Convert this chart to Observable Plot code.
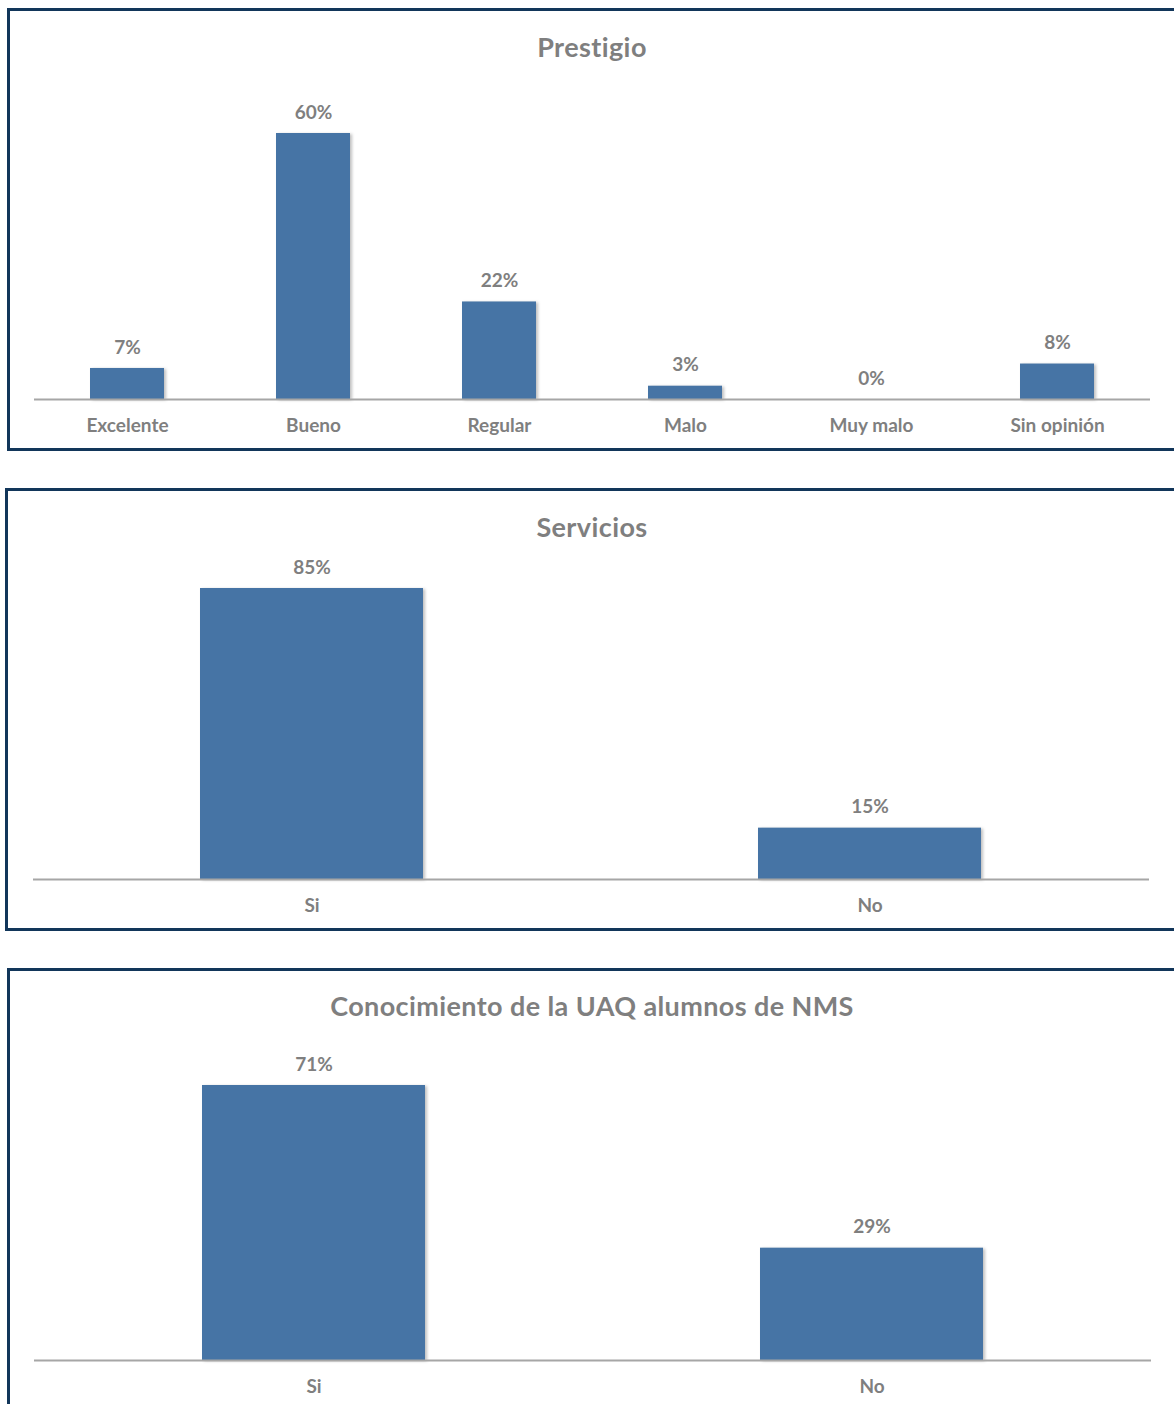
<!DOCTYPE html>
<html>
<head>
<meta charset="utf-8">
<script src="https://cdn.jsdelivr.net/npm/d3@7"></script>
<script src="https://cdn.jsdelivr.net/npm/@observablehq/plot@0.6"></script>
<style>
  html, body { margin: 0; padding: 0; background: #fff; width: 1174px; height: 1404px; overflow: hidden; }
  body { position: relative; font-family: Lato, "Open Sans", sans-serif; }
  .frame { position: absolute; border: 3px solid #12365a; box-sizing: border-box; }
  .title { position: absolute; left: 0; width: 1184px; text-align: center; font-weight: 700; font-size: 27px; letter-spacing: 0.4px; color: #7f7f7f; line-height: 30px; }
  .chart { position: absolute; left: 0; }
  .bar { filter: drop-shadow(2px 1px 1.5px rgba(0,0,0,0.25)); }
</style>
</head>
<body>
<script>
// ---- data ----
const prestigioTitle = "Prestigio";
const prestigioCategories = ["Excelente", "Bueno", "Regular", "Malo", "Muy malo", "Sin opinión"];
const prestigioValues = [7, 60, 22, 3, 0, 8];

const serviciosTitle = "Servicios";
const serviciosCategories = ["Si", "No"];
const serviciosValues = [85, 15];

const conocimientoTitle = "Conocimiento de la UAQ alumnos de NMS";
const conocimientoCategories = ["Si", "No"];
const conocimientoValues = [71, 29];

// ---- layout ----
const W = 1174;
const panels = [
  {title: prestigioTitle, cats: prestigioCategories, vals: prestigioValues,
   frame: {left: 7, top: 8, height: 443}, titleY: 47, svgTop: 60, svgH: 390, baseY: 399, refVal: 60, refTop: 133, x0: 34, x1: 1150},
  {title: serviciosTitle, cats: serviciosCategories, vals: serviciosValues,
   frame: {left: 5, top: 488, height: 443}, titleY: 527, svgTop: 540, svgH: 390, baseY: 879, refVal: 85, refTop: 588, x0: 33, x1: 1149},
  {title: conocimientoTitle, cats: conocimientoCategories, vals: conocimientoValues,
   frame: {left: 7, top: 968, height: 520}, titleY: 1006, svgTop: 1020, svgH: 384, baseY: 1360, refVal: 71, refTop: 1085, x0: 34, x1: 1151}
];

const BAR = "#4674a5";
const GRAY = "#7f7f7f";

for (const p of panels) {
  const fr = document.createElement("div");
  fr.className = "frame";
  fr.style.left = p.frame.left + "px";
  fr.style.top = p.frame.top + "px";
  fr.style.width = (W + 20 - p.frame.left) + "px";
  fr.style.height = p.frame.height + "px";
  document.body.appendChild(fr);

  const t = document.createElement("div");
  t.className = "title";
  t.style.top = (p.titleY - 15) + "px";
  t.textContent = p.title;
  document.body.appendChild(t);

  const data = p.cats.map((c, i) => ({cat: c, val: p.vals[i]}));
  const base = p.baseY - p.svgTop;
  const top = p.refTop - p.svgTop;

  const chart = Plot.plot({
    width: W,
    height: p.svgH,
    marginLeft: p.x0,
    marginRight: W - p.x1,
    marginTop: 0,
    marginBottom: 0,
    style: {fontFamily: "Lato, 'Open Sans', sans-serif", background: "transparent", overflow: "visible"},
    x: {domain: p.cats, range: [p.x0, p.x1], paddingInner: 0.6, paddingOuter: 0.3, axis: null},
    y: {domain: [0, p.refVal], range: [base, top], axis: null},
    marks: [
      Plot.barY(data, {x: "cat", y: "val", fill: BAR, className: "bar"}),
      Plot.ruleY([0], {stroke: "#a6a6a6", strokeWidth: 2}),
      Plot.text(data, {x: "cat", y: "val", text: d => d.val + "%", dy: -21, fill: GRAY, fontSize: 19, fontWeight: 700}),
      Plot.text(data, {x: "cat", y: () => 0, text: "cat", dy: 26, fill: GRAY, fontSize: 19, fontWeight: 700})
    ]
  });
  chart.classList.add("chart");
  chart.style.top = p.svgTop + "px";
  chart.style.position = "absolute";
  document.body.appendChild(chart);
}
</script>
</body>
</html>
